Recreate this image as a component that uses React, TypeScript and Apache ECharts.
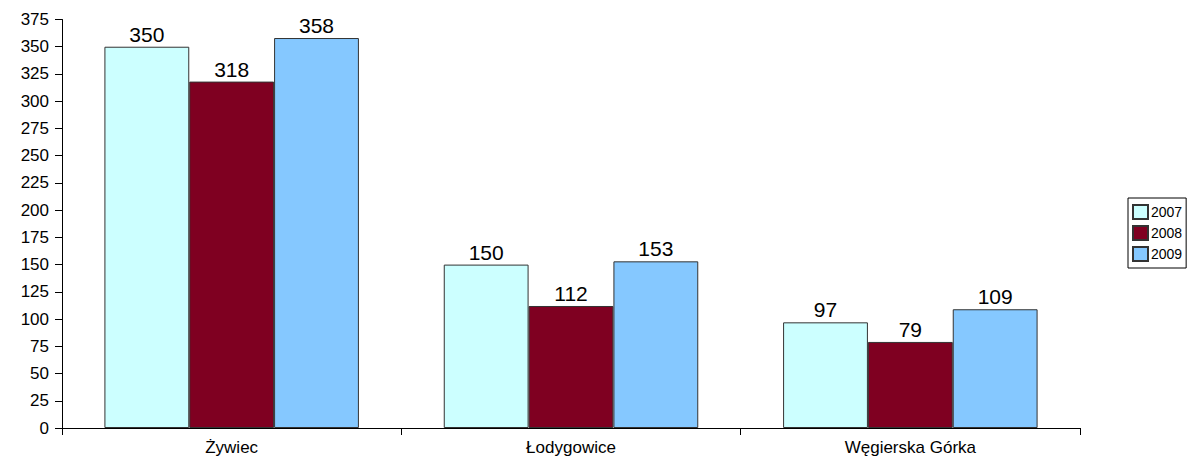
import React, { useEffect, useRef } from "react";
import * as echarts from "echarts";

const categories = ["Żywiec", "Łodygowice", "Węgierska Górka"];
const seriesNames = ["2007", "2008", "2009"];
const values2007 = [350, 150, 97];
const values2008 = [318, 112, 79];
const values2009 = [358, 153, 109];
const colors = ["#CCFFFF", "#7F0021", "#85C8FF"];

export default function App() {
  const ref = useRef<HTMLDivElement>(null);
  useEffect(() => {
    if (!ref.current) return;
    const chart = echarts.init(ref.current, null, { renderer: "svg" });
    const data = [values2007, values2008, values2009];
    chart.setOption({
      animation: false,
      textStyle: { fontFamily: "Liberation Sans, Arial, sans-serif" },
      grid: { left: 62, right: 116, top: 19.5, bottom: 40, containLabel: false },
      legend: {
        orient: "vertical",
        left: 1128,
        top: 198,
        icon: "rect",
        itemWidth: 15,
        itemHeight: 14,
        itemGap: 5,
        padding: [6, 4, 6, 4],
        borderColor: "#000",
        borderWidth: 1,
        textStyle: { fontSize: 14, color: "#000", padding: [0, 0, 0, -2] },
        data: seriesNames,
      },
      xAxis: {
        type: "category",
        data: categories,
        axisLine: { lineStyle: { color: "#000", width: 1 } },
        axisTick: { show: true, length: 7, lineStyle: { color: "#000" } },
        axisLabel: { color: "#000", fontSize: 17, margin: 11 },
      },
      yAxis: {
        type: "value",
        min: 0,
        max: 375,
        interval: 25,
        axisLine: { show: true, lineStyle: { color: "#000", width: 1 } },
        axisTick: { show: true, length: 7, lineStyle: { color: "#000" } },
        axisLabel: { color: "#000", fontSize: 17, margin: 13 },
        splitLine: { show: false },
      },
      series: seriesNames.map((name, i) => ({
        name,
        type: "bar",
        data: data[i],
        barGap: "0%",
        barCategoryGap: "25%",
        itemStyle: { color: colors[i], borderColor: "#333", borderWidth: 1 },
        label: { show: true, position: "top", color: "#000", fontSize: 21, distance: 2 },
      })),
    });
    return () => chart.dispose();
  }, []);
  return <div ref={ref} style={{ width: 1196, height: 468, position: "absolute", left: 0, top: 0 }} />;
}
